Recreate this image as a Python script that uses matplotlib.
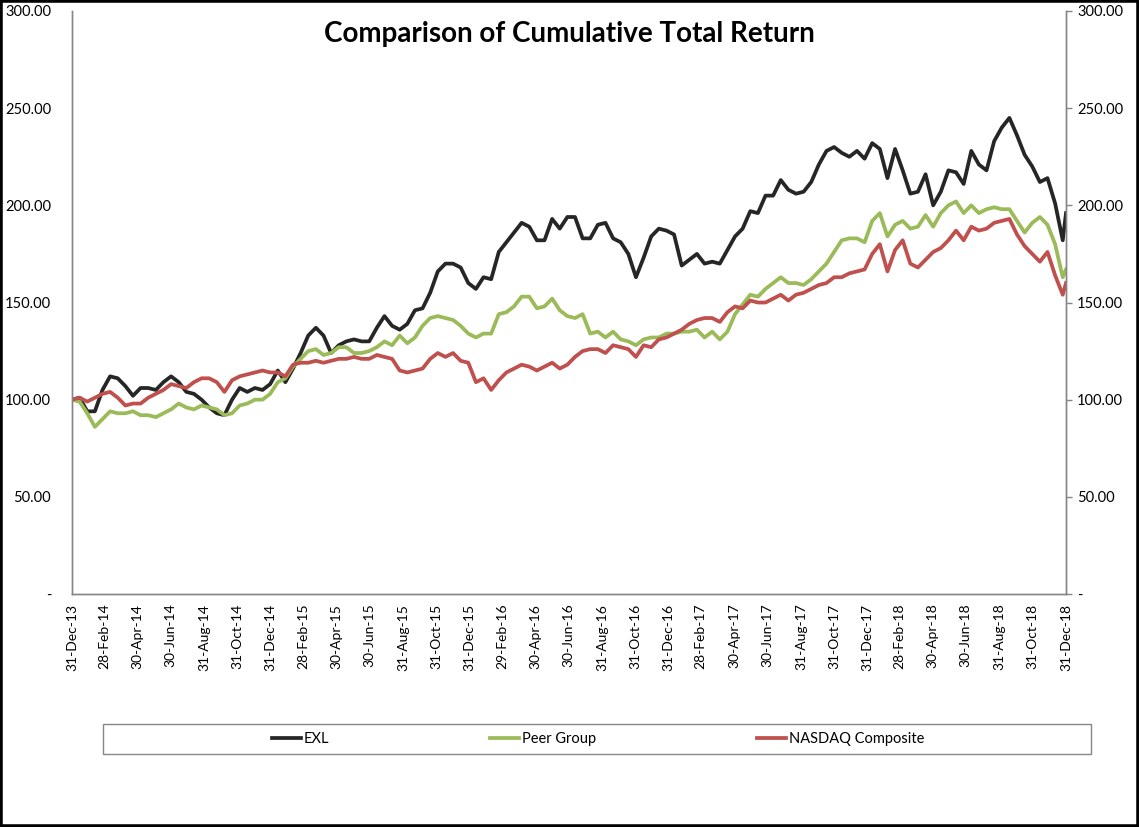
"""
Comparison of cumulative total return: EXL vs peer group vs NASDAQ
"""

import pandas as pd
import matplotlib.pyplot as plt
import matplotlib.dates as mdates
import matplotlib.ticker as mticker
from matplotlib.patches import Rectangle

#---------------------------------------------------------------------------------------------------
# Input Parameters
#---------------------------------------------------------------------------------------------------

# Bi-weekly observation dates (last point is year end 2018)
dates = list(pd.date_range('2013-12-31', periods=131, freq='14D')) + [pd.Timestamp('2018-12-31')]

exl = [100, 101, 94, 94, 105, 112, 111, 107, 102, 106,
       106, 105, 109, 112, 109, 104, 103, 100, 96, 93,
       92, 100, 106, 104, 106, 105, 108, 115, 109, 116,
       124, 133, 137, 133, 124, 128, 130, 131, 130, 130,
       137, 143, 138, 136, 139, 146, 147, 155, 166, 170,
       170, 168, 160, 157, 163, 162, 176, 181, 186, 191,
       189, 182, 182, 193, 188, 194, 194, 183, 183, 190,
       191, 183, 181, 175, 163, 173, 184, 188, 187, 185,
       169, 172, 175, 170, 171, 170, 177, 184, 188, 197,
       196, 205, 205, 213, 208, 206, 207, 212, 221, 228,
       230, 227, 225, 228, 224, 232, 229, 214, 229, 218,
       206, 207, 216, 200, 207, 218, 217, 211, 228, 221,
       218, 233, 240, 245, 236, 226, 220, 212, 214, 201,
       182, 196]

peer = [100, 99, 93, 86, 90, 94, 93, 93, 94, 92,
        92, 91, 93, 95, 98, 96, 95, 97, 96, 95,
        92, 93, 97, 98, 100, 100, 103, 109, 111, 117,
        121, 125, 126, 123, 124, 127, 127, 124, 124, 125,
        127, 130, 128, 133, 129, 132, 138, 142, 143, 142,
        141, 138, 134, 132, 134, 134, 144, 145, 148, 153,
        153, 147, 148, 152, 146, 143, 142, 144, 134, 135,
        132, 135, 131, 130, 128, 131, 132, 132, 134, 134,
        135, 135, 136, 132, 135, 131, 135, 144, 149, 154,
        153, 157, 160, 163, 160, 160, 159, 162, 166, 170,
        176, 182, 183, 183, 181, 192, 196, 184, 190, 192,
        188, 189, 195, 189, 196, 200, 202, 196, 200, 196,
        198, 199, 198, 198, 192, 186, 191, 194, 190, 180,
        163, 167]

nasdaq = [100, 101, 99, 101, 103, 104, 101, 97, 98, 98,
          101, 103, 105, 108, 107, 106, 109, 111, 111, 109,
          104, 110, 112, 113, 114, 115, 114, 114, 112, 118,
          119, 119, 120, 119, 120, 121, 121, 122, 121, 121,
          123, 122, 121, 115, 114, 115, 116, 121, 124, 122,
          124, 120, 119, 109, 111, 105, 110, 114, 116, 118,
          117, 115, 117, 119, 116, 118, 122, 125, 126, 126,
          124, 128, 127, 126, 122, 128, 127, 131, 132, 134,
          136, 139, 141, 142, 142, 140, 145, 148, 147, 151,
          150, 150, 152, 154, 151, 154, 155, 157, 159, 160,
          163, 163, 165, 166, 167, 175, 180, 166, 177, 182,
          170, 168, 172, 176, 178, 182, 187, 182, 189, 187,
          188, 191, 192, 193, 185, 179, 175, 171, 176, 164,
          154, 160]

series = [('EXL', exl, '#262626'),
          ('Peer Group', peer, '#9bbb59'),
          ('NASDAQ Composite', nasdaq, '#c0504d')]

title = 'Comparison of Cumulative Total Return'
out_fname = 'out.png'

#---------------------------------------------------------------------------------------------------
# Main Program
#---------------------------------------------------------------------------------------------------

plt.rcParams['font.family'] = ['Lato', 'DejaVu Sans']

fig = plt.figure(figsize=(11.39, 8.27), dpi=100)
ax = fig.add_axes([72/1139, 1 - 594/827, 994/1139, 583/827])

for lbl, vals, c in series:
    ax.plot(dates, vals, color=c, lw=2.7, label=lbl, solid_joinstyle='round')

# Axes limits and ticks
ax.set_ylim(0, 300)
ax.set_xlim(pd.Timestamp('2013-12-31'), pd.Timestamp('2018-12-31'))
xticks = pd.date_range('2013-12-31', '2018-12-31', freq='2ME')
ax.set_xticks(xticks)
ax.xaxis.set_major_formatter(mdates.DateFormatter('%d-%b-%y'))
ax.tick_params(axis='x', rotation=90, labelsize=10, length=0, pad=7)

fmt = mticker.FuncFormatter(lambda v, p: '-' if v == 0 else f'{v:.2f}')
ax.yaxis.set_major_locator(mticker.MultipleLocator(50))
ax.yaxis.set_major_formatter(fmt)
ax.tick_params(axis='y', labelsize=10.5, length=0, pad=15)

ax2 = ax.twinx()
ax2.set_ylim(0, 300)
ax2.yaxis.set_major_locator(mticker.MultipleLocator(50))
ax2.yaxis.set_major_formatter(fmt)
ax2.tick_params(axis='y', labelsize=10.5, length=4, width=1, color='#868686', pad=4)

for a in [ax, ax2]:
    a.spines['top'].set_visible(False)
    for s in ['left', 'right', 'bottom']:
        a.spines[s].set_color('#868686')
        a.spines[s].set_linewidth(1)

ax.text(0.5, 0.96, title, transform=ax.transAxes, ha='center', va='center',
        fontsize=20, weight='bold')

# Legend with its own box
fig.patches.append(Rectangle((103/1139, 1 - 754/827), 988/1139, 30/827, transform=fig.transFigure,
                             facecolor='white', edgecolor='#868686', lw=1))
fig.legend(loc='center', bbox_to_anchor=(598/1139, 1 - 739/827), ncol=3, frameon=False,
           fontsize=10.5, handlelength=2.0, handletextpad=0.2, columnspacing=11.0)

# Figure border
fig.patches.append(Rectangle((0, 0), 1, 1, transform=fig.transFigure, fill=False,
                             edgecolor='black', lw=4))

plt.savefig(out_fname, dpi=100)
plt.close()
